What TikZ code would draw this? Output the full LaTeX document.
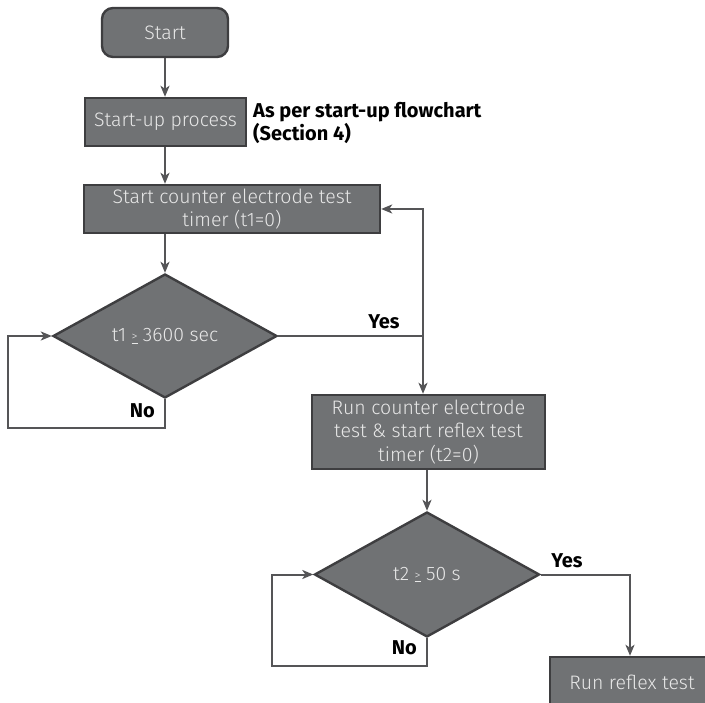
\documentclass[tikz,border=0pt]{standalone}
\usepackage{fontspec}
\setmainfont{Fira Sans}
\newfontfamily\lightf{Fira Sans Light}
\usetikzlibrary{shapes.geometric,arrows.meta,calc}
\definecolor{boxfill}{RGB}{112,114,116}
\definecolor{boxline}{RGB}{62,62,64}
\definecolor{boxtext}{RGB}{232,232,232}
\definecolor{conn}{RGB}{85,85,87}
\tikzset{
  base/.style={draw=boxline, line width=2.4pt, fill=boxfill, text=boxtext, inner sep=0pt,
    font=\lightf\fontsize{19.5}{23.5}\selectfont, align=center},
  procbox/.style={base, rectangle},
  startbox/.style={base, rectangle, rounded corners=11pt},
  decision/.style={base, diamond, aspect=1.8},
  conn/.style={draw=conn, line width=2pt},
  arr/.style={conn, -{Stealth[length=11pt,width=9pt,inset=3pt]}},
  lbl/.style={font=\bfseries\fontsize{20}{23}\selectfont, text=black, inner sep=0pt},
}
\begin{document}
\begin{tikzpicture}[x=1pt,y=-1pt]
\useasboundingbox (0,0) rectangle (705,703);
\node[startbox, minimum width=126pt, minimum height=49pt] (start) at (165,32.5) {Start};
\node[procbox, minimum width=161pt, minimum height=48pt] (startup) at (165.5,122) {Start-up process};
\node[lbl, anchor=west, align=left] (note) at (253,123) {As per start-up flowchart\\(Section 4)};
\node[procbox, minimum width=296pt, minimum height=48pt] (sc) at (232,209) {Start counter electrode test\\timer (t1=0)};
\node[decision, minimum width=224pt, minimum height=124pt] (d1) at (165,336) {t1 \underline{\raisebox{1pt}{\fontsize{12}{12}\selectfont >}} 3600 sec};
\node[procbox, minimum width=233pt, minimum height=74pt] (run) at (428.5,432) {Run counter electrode\\test \& start reflex test\\timer (t2=0)};
\node[decision, minimum width=225pt, minimum height=125pt] (d2) at (427,574.5) {t2 \underline{\raisebox{1pt}{\fontsize{12}{12}\selectfont >}} 50 s};
\node[procbox, minimum width=164pt, minimum height=50pt] (reflex) at (632,682) {Run reflex test};

\coordinate (j1) at (423,336);
\coordinate (n1a) at (165,428);
\coordinate (n1b) at (8,428);
\coordinate (n2a) at (427,666);
\coordinate (n2b) at (272,666);
\coordinate (y2) at (630,574.5);

\draw[arr] (start.south) -- (start.south |- startup.north);
\draw[arr] (startup.south -| start.south) -- (start.south |- sc.north);
\draw[arr] (sc.south -| d1.north) -- (d1.north);
\draw[conn] (d1.east) -- (j1);
\draw[arr] (j1) -- (j1 |- sc.east) -- (sc.east);
\draw[arr] (j1) -- (j1 |- run.north);
\draw[arr] (d1.south) -- (n1a) -- (n1b) -- (n1b |- d1.west) -- (d1.west);
\draw[arr] (run.south -| d2.north) -- (d2.north);
\draw[arr] (d2.east) -- (y2) -- (y2 |- reflex.north);
\draw[arr] (d2.south) -- (n2a) -- (n2b) -- (n2b |- d2.west) -- (d2.west);

\node[lbl] (yes1) at (384,322) {Yes};
\node[lbl, anchor=east] (no1) at (155,411) {No};
\node[lbl] (yes2) at (567,561) {Yes};
\node[lbl, anchor=east] (no2) at (417,648) {No};
\end{tikzpicture}
\end{document}
